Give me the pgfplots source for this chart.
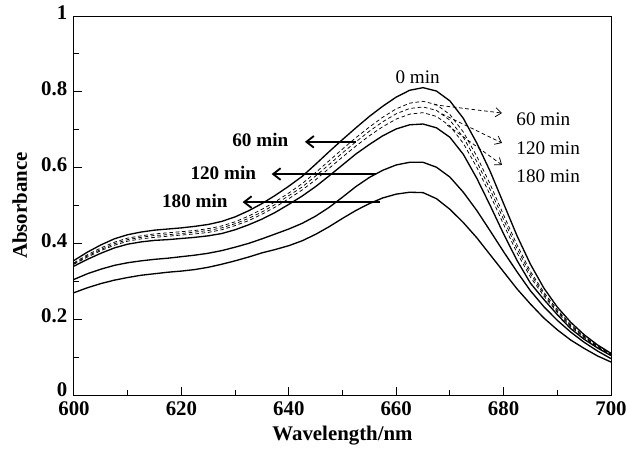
\documentclass[border=0pt]{standalone}
\usepackage{fontspec}
\setmainfont{Liberation Serif}
\usepackage{pgfplots}
\pgfplotsset{compat=1.18}
\usepackage{pgfplotstable}
\usetikzlibrary{arrows.meta}

\pgfplotstableread{
wl    T     M60   M120  M180  E     C     D
600   0.355 0.349 0.347 0.345 0.340 0.305 0.270
602.5 0.377 0.370 0.367 0.364 0.358 0.320 0.283
605   0.396 0.388 0.384 0.381 0.374 0.332 0.294
607.5 0.412 0.403 0.399 0.395 0.388 0.342 0.303
610   0.423 0.414 0.410 0.406 0.398 0.349 0.310
612.5 0.430 0.420 0.416 0.412 0.404 0.354 0.316
615   0.435 0.425 0.421 0.416 0.408 0.358 0.320
617.5 0.438 0.428 0.423 0.419 0.410 0.361 0.324
620   0.441 0.431 0.426 0.422 0.413 0.365 0.327
622.5 0.445 0.434 0.430 0.425 0.416 0.369 0.331
625   0.450 0.439 0.434 0.429 0.420 0.374 0.337
627.5 0.458 0.446 0.441 0.436 0.426 0.381 0.345
630   0.470 0.457 0.452 0.447 0.436 0.390 0.354
632.5 0.486 0.472 0.466 0.460 0.449 0.400 0.364
635   0.505 0.490 0.483 0.477 0.464 0.412 0.375
637.5 0.527 0.510 0.503 0.496 0.482 0.425 0.384
640   0.551 0.533 0.526 0.518 0.503 0.438 0.394
642.5 0.577 0.558 0.549 0.541 0.525 0.453 0.407
645   0.609 0.587 0.578 0.568 0.550 0.472 0.424
647.5 0.642 0.618 0.608 0.598 0.578 0.495 0.444
650   0.674 0.649 0.639 0.628 0.607 0.522 0.466
652.5 0.705 0.679 0.668 0.657 0.636 0.550 0.487
655   0.735 0.707 0.696 0.684 0.661 0.574 0.505
657.5 0.762 0.733 0.721 0.708 0.684 0.593 0.520
660   0.786 0.755 0.742 0.728 0.702 0.607 0.530
662.5 0.804 0.770 0.756 0.741 0.713 0.614 0.535
665   0.811 0.775 0.760 0.745 0.715 0.614 0.534
667.5 0.802 0.766 0.751 0.735 0.705 0.601 0.518
670   0.776 0.740 0.725 0.710 0.680 0.575 0.490
672.5 0.730 0.694 0.680 0.664 0.635 0.535 0.455
675   0.665 0.630 0.616 0.601 0.572 0.487 0.415
677.5 0.590 0.556 0.542 0.528 0.500 0.433 0.370
680   0.505 0.475 0.463 0.450 0.425 0.378 0.325
682.5 0.420 0.396 0.386 0.375 0.355 0.325 0.280
685   0.345 0.326 0.319 0.311 0.295 0.275 0.240
687.5 0.282 0.271 0.266 0.261 0.252 0.233 0.203
690   0.232 0.225 0.221 0.218 0.212 0.197 0.172
692.5 0.192 0.186 0.183 0.180 0.175 0.166 0.145
695   0.159 0.155 0.153 0.151 0.147 0.139 0.123
697.5 0.132 0.129 0.128 0.126 0.124 0.116 0.103
700   0.110 0.108 0.107 0.106 0.104 0.096 0.087
}\spectra

\begin{document}
\begin{tikzpicture}[font=\fontsize{11.5}{13.8}\selectfont]
\begin{axis}[
  at={(0,0)}, anchor=south west,
  scale only axis, width=322.2pt, height=227.4pt,
  xmin=600, xmax=700, ymin=0, ymax=1,
  xtick={600,620,640,660,680,700},
  xticklabels={600,620,640,660,680,700},
  minor xtick={610,630,650,670,690},
  ytick={0,0.2,0.4,0.6,0.8,1},
  yticklabels={\raisebox{2.5pt}{0},0.2,0.4,0.6,0.8,1},
  minor ytick={0.1,0.3,0.5,0.7,0.9},
  xtick pos=left, ytick pos=left,
  tick align=inside,
  major tick length=4.6pt, minor tick length=2.8pt,
  tick style={line width=0.6pt, black},
  axis line style={line width=0.6pt},
  ticklabel style={font=\fontsize{12.5}{14}\selectfont\bfseries},
  xticklabel style={yshift=-0.3pt},
  yticklabel style={xshift=-0.5pt, yshift=1.8pt},
  /pgf/number format/assume math mode=true,
  xlabel={Wavelength/nm}, ylabel={Absorbance},
  label style={font=\fontsize{12.5}{14}\selectfont\bfseries},
  xlabel style={at={(axis description cs:0.5,0)}, anchor=center, yshift=-24.5pt},
  ylabel style={at={(axis description cs:0,0.5)}, anchor=center, yshift=32.5pt},
  clip=false,
]
\addplot[black, line width=0.8pt] table[x=wl, y=T] {\spectra};
\addplot[black, line width=0.45pt, dash pattern=on 2.2pt off 1.6pt] table[x=wl, y=M60] {\spectra};
\addplot[black, line width=0.45pt, dash pattern=on 2.2pt off 1.6pt] table[x=wl, y=M120] {\spectra};
\addplot[black, line width=0.45pt, dash pattern=on 2.2pt off 1.6pt] table[x=wl, y=M180] {\spectra};
\addplot[black, line width=0.8pt] table[x=wl, y=E] {\spectra};
\addplot[black, line width=0.8pt] table[x=wl, y=C] {\spectra};
\addplot[black, line width=0.8pt] table[x=wl, y=D] {\spectra};

% bold arrows (pointing left)
\draw[line width=1.1pt, -{Straight Barb[length=4.5pt,width=7pt]}] (axis cs:652.5,0.668) -- (axis cs:643,0.668);
\draw[line width=1.1pt, -{Straight Barb[length=4.5pt,width=7pt]}] (axis cs:656.2,0.583) -- (axis cs:636.8,0.583);
\draw[line width=1.1pt, -{Straight Barb[length=4.5pt,width=7pt]}] (axis cs:657.0,0.509) -- (axis cs:631.4,0.509);
\node[anchor=east, font=\fontsize{11.5}{13.8}\selectfont\bfseries] at (axis cs:641,0.672) {60 min};
\node[anchor=east, font=\fontsize{11.5}{13.8}\selectfont\bfseries] at (axis cs:635,0.585) {120 min};
\node[anchor=east, font=\fontsize{11.5}{13.8}\selectfont\bfseries] at (axis cs:629.7,0.511) {180 min};

% dashed arrows (pointing right)
\draw[line width=0.45pt, dash pattern=on 2.2pt off 1.6pt, -{Straight Barb[length=3.5pt,width=5.5pt]}] (axis cs:667,0.766) -- (axis cs:679.7,0.744);
\draw[line width=0.45pt, dash pattern=on 2.2pt off 1.6pt, -{Straight Barb[length=3.5pt,width=5.5pt]}] (axis cs:668.5,0.742) -- (axis cs:679.7,0.665);
\draw[line width=0.45pt, dash pattern=on 2.2pt off 1.6pt, -{Straight Barb[length=3.5pt,width=5.5pt]}] (axis cs:669.5,0.712) -- (axis cs:679.7,0.607);
\node[anchor=west] at (axis cs:681.3,0.727) {60 min};
\node[anchor=west] at (axis cs:681.3,0.652) {120 min};
\node[anchor=west] at (axis cs:681.3,0.578) {180 min};
\node at (axis cs:664,0.838) {0 min};
\end{axis}
\pgfresetboundingbox
\path[use as bounding box] (-44.4pt,-31.8pt) rectangle (331.8pt,237pt);
\end{tikzpicture}
\end{document}
